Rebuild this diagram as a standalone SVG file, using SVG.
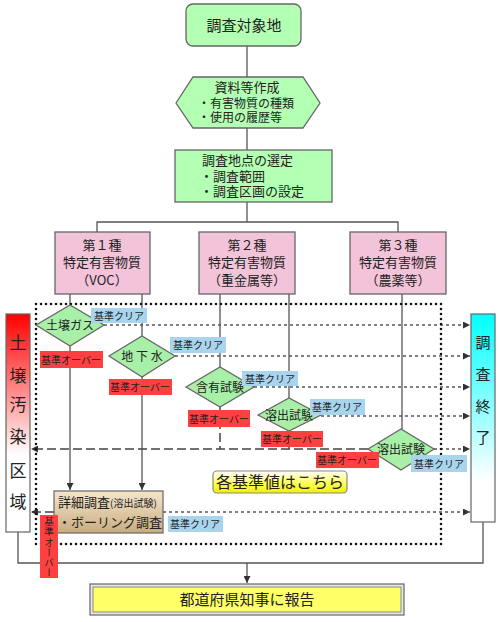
<svg xmlns="http://www.w3.org/2000/svg" width="500" height="622" viewBox="0 0 500 622">
<defs>
<linearGradient id="gRed" x1="0" y1="0" x2="0" y2="1"><stop offset="0" stop-color="#ff0000"/><stop offset="0.65" stop-color="#ffffff"/><stop offset="1" stop-color="#ffffff"/></linearGradient>
<linearGradient id="gCyan" x1="0" y1="0" x2="0" y2="1"><stop offset="0" stop-color="#00ffff"/><stop offset="0.8" stop-color="#ffffff"/><stop offset="1" stop-color="#ffffff"/></linearGradient>
<linearGradient id="gTan" x1="0" y1="0" x2="0" y2="1"><stop offset="0" stop-color="#f4e6cc"/><stop offset="1" stop-color="#c9ac80"/></linearGradient>
<linearGradient id="gYel" x1="0" y1="0" x2="0" y2="1"><stop offset="0" stop-color="#ffffff"/><stop offset="0.5" stop-color="#ffff66"/><stop offset="1" stop-color="#f0f000"/></linearGradient>
<marker id="ar" viewBox="0 0 10 10" refX="10" refY="5" markerWidth="7" markerHeight="7" orient="auto-start-reverse" markerUnits="userSpaceOnUse"><path d="M0,0 L10,5 L0,10 z" fill="#333"/></marker>
</defs>
<style>
text{font-family:"Noto Sans CJK JP","Noto Sans",sans-serif;fill:#222;}
.g{fill:#b3ffb3;stroke:#666;stroke-width:1.3;}
.p{fill:#f2c3d9;stroke:#666;stroke-width:1.3;}
.dm{fill:#a8f0a8;stroke:#666;stroke-width:1.3;}
.ln{stroke:#555;stroke-width:1.3;fill:none;}
.ds{stroke:#555;stroke-width:1.3;fill:none;stroke-dasharray:3,3;}
.ld{stroke:#444;stroke-width:1.5;fill:none;stroke-dasharray:9,4;}
.clr{fill:#a8d4ee;}
.ovr{fill:#ff4040;}
.lb{font-size:10px;}
.t13{font-size:13px;}
.t12{font-size:12px;}
.vt{font-size:9.5px;writing-mode:vertical-rl;text-orientation:upright;letter-spacing:0.6px;}
</style>
<rect width="500" height="622" fill="#ffffff"/>

<g id="connectors">
<line class="ln" x1="247" y1="46" x2="247" y2="77"/>
<line class="ln" x1="247" y1="128" x2="247" y2="150"/>
<polyline class="ln" points="247,202 247,222"/>
<polyline class="ln" points="97,232 97,222 398,222 398,232"/>
<line class="ln" x1="70" y1="294" x2="70" y2="305"/>
<line class="ln" x1="70" y1="346" x2="70" y2="490" marker-end="url(#ar)"/>
<line class="ln" x1="142" y1="294" x2="142" y2="336"/>
<line class="ln" x1="142" y1="377" x2="142" y2="490" marker-end="url(#ar)"/>
<line class="ln" x1="220" y1="294" x2="220" y2="367"/>
<line class="ln" x1="289" y1="294" x2="289" y2="398"/>
<line class="ln" x1="402" y1="294" x2="402" y2="429"/>
<line class="ds" x1="104" y1="325" x2="470" y2="325" marker-end="url(#ar)"/>
<line class="ds" x1="175" y1="356" x2="470" y2="356" marker-end="url(#ar)"/>
<line class="ds" x1="254" y1="387" x2="470" y2="387" marker-end="url(#ar)"/>
<line class="ds" x1="321" y1="416" x2="470" y2="416" marker-end="url(#ar)"/>
<line class="ds" x1="434" y1="449" x2="470" y2="449" marker-end="url(#ar)"/>
<line class="ds" x1="163" y1="512" x2="470" y2="512" marker-end="url(#ar)"/>
<line class="ld" x1="54" y1="512" x2="31" y2="512" marker-end="url(#ar)"/>
<line class="ld" x1="220" y1="407" x2="220" y2="449"/>
<line class="ld" x1="289" y1="431" x2="289" y2="449"/>
<line class="ld" x1="368" y1="449" x2="31" y2="449" marker-end="url(#ar)"/>
<polyline class="ln" points="483,522 483,563 18,563 18,532"/>
<line class="ln" x1="247" y1="563" x2="247" y2="583" marker-end="url(#ar)"/>
<rect x="36" y="304" width="405" height="240" fill="none" stroke="#111" stroke-width="2.6" stroke-dasharray="0,5" stroke-linecap="round"/>
</g>

<g id="n-target">
<rect class="g" x="186" y="4" width="115" height="42" rx="7"/>
<text x="244" y="31" font-size="15" text-anchor="middle">調査対象地</text>
</g>
<g id="n-docs">
<polygon class="g" points="176,103 193,77 303,77 320,103 303,128 193,128"/>
<text x="247" y="92" class="t13" text-anchor="middle">資料等作成</text>
<text x="198" y="108" class="t12">・有害物質の種類</text>
<text x="198" y="122" class="t12">・使用の履歴等</text>
</g>
<g id="n-select">
<rect class="g" x="175" y="150" width="157" height="52"/>
<text x="202" y="165" class="t13">調査地点の選定</text>
<text x="200" y="181" class="t13">・調査範囲</text>
<text x="200" y="196" class="t13">・調査区画の設定</text>
</g>

<g id="n-type1">
<rect class="p" x="55" y="232" width="95" height="62"/>
<text x="102" y="250" class="t13" text-anchor="middle">第１種</text>
<text x="102" y="267" class="t13" text-anchor="middle">特定有害物質</text>
<text x="102" y="285" class="t13" text-anchor="middle">（VOC）</text>
</g>
<g id="n-type2">
<rect class="p" x="199" y="232" width="96" height="62"/>
<text x="247" y="250" class="t13" text-anchor="middle">第２種</text>
<text x="247" y="267" class="t13" text-anchor="middle">特定有害物質</text>
<text x="247" y="285" class="t13" text-anchor="middle">（重金属等）</text>
</g>
<g id="n-type3">
<rect class="p" x="350" y="232" width="96" height="62"/>
<text x="398" y="250" class="t13" text-anchor="middle">第３種</text>
<text x="398" y="267" class="t13" text-anchor="middle">特定有害物質</text>
<text x="398" y="285" class="t13" text-anchor="middle">（農薬等）</text>
</g>

<g id="n-polluted">
<rect x="6" y="314" width="24" height="218" fill="url(#gRed)" stroke="#666" stroke-width="1.2"/>
<text x="18" y="349" font-size="17" text-anchor="middle">土</text>
<text x="18" y="382" font-size="17" text-anchor="middle">壌</text>
<text x="18" y="411" font-size="17" text-anchor="middle">汚</text>
<text x="18" y="443" font-size="17" text-anchor="middle">染</text>
<text x="18" y="477" font-size="17" text-anchor="middle">区</text>
<text x="18" y="508" font-size="17" text-anchor="middle">域</text>
</g>
<g id="n-end">
<rect x="471" y="314" width="24" height="208" fill="url(#gCyan)" stroke="#666" stroke-width="1.2"/>
<text x="483" y="348" font-size="15" text-anchor="middle">調</text>
<text x="483" y="380" font-size="15" text-anchor="middle">査</text>
<text x="483" y="412" font-size="15" text-anchor="middle">終</text>
<text x="483" y="443" font-size="15" text-anchor="middle">了</text>
</g>

<g id="n-gas">
<polygon class="dm" points="36,325 70,305 104,325 70,346"/>
<text x="70" y="330" class="t12" text-anchor="middle">土壌ガス</text>
<rect class="clr" x="91" y="308" width="56" height="15"/>
<text x="119" y="319.5" class="lb" text-anchor="middle">基準クリア</text>
<rect class="ovr" x="40" y="351" width="63" height="17"/>
<text x="71" y="363.5" class="lb" text-anchor="middle">基準オーバー</text>
</g>
<g id="n-water">
<polygon class="dm" points="109,356 142,336 175,356 142,377"/>
<text x="142" y="361" class="t12" text-anchor="middle">地 下 水</text>
<rect class="clr" x="170" y="337" width="56" height="16"/>
<text x="198" y="349" class="lb" text-anchor="middle">基準クリア</text>
<rect class="ovr" x="109" y="379" width="63" height="16"/>
<text x="140" y="391" class="lb" text-anchor="middle">基準オーバー</text>
</g>
<g id="n-content">
<polygon class="dm" points="186,387 220,367 254,387 220,407"/>
<text x="220" y="392" class="t12" text-anchor="middle">含有試験</text>
<rect class="clr" x="242" y="371" width="56" height="15"/>
<text x="270" y="382.5" class="lb" text-anchor="middle">基準クリア</text>
<rect class="ovr" x="188" y="410" width="62" height="17"/>
<text x="219" y="422.5" class="lb" text-anchor="middle">基準オーバー</text>
</g>
<g id="n-elution2">
<polygon class="dm" points="258,415 289,398 321,415 289,431"/>
<text x="289" y="420" class="t12" text-anchor="middle">溶出試験</text>
<rect class="clr" x="310" y="399" width="55" height="16"/>
<text x="337" y="411" class="lb" text-anchor="middle">基準クリア</text>
<rect class="ovr" x="261" y="431" width="62" height="16"/>
<text x="292" y="443" class="lb" text-anchor="middle">基準オーバー</text>
</g>
<g id="n-elution3">
<polygon class="dm" points="368,449 401,429 434,449 401,470"/>
<text x="401" y="454" class="t12" text-anchor="middle">溶出試験</text>
<rect class="ovr" x="316" y="452" width="63" height="16"/>
<text x="347" y="464" class="lb" text-anchor="middle">基準オーバー</text>
<rect class="clr" x="411" y="455" width="56" height="17"/>
<text x="439" y="467.5" class="lb" text-anchor="middle">基準クリア</text>
</g>
<g id="n-standards">
<rect x="213" y="471" width="134" height="22" rx="4" fill="url(#gYel)" stroke="#888" stroke-width="1.2"/>
<text x="280" y="488" font-size="16" text-anchor="middle">各基準値はこちら</text>
</g>
<g id="n-detail">
<rect x="54" y="491" width="109" height="42" fill="url(#gTan)" stroke="#666" stroke-width="1.2"/>
<text x="58" y="507"><tspan font-size="13">詳細調査</tspan><tspan font-size="10">(溶出試験)</tspan></text>
<text x="58" y="527" class="t13">・ボーリング調査</text>
<rect class="clr" x="168" y="516" width="55" height="16"/>
<text x="195" y="528" class="lb" text-anchor="middle">基準クリア</text>
<rect class="ovr" x="40" y="515" width="18" height="63"/>
<text x="49" y="517" class="vt">基準オーバー</text>
</g>
<g id="n-report">
<rect x="90" y="584" width="314" height="31" fill="#e8e8e8" stroke="#666" stroke-width="1.2"/>
<rect x="93" y="587" width="308" height="25" fill="#ffff66" stroke="#888" stroke-width="1"/>
<text x="247" y="605" font-size="15" text-anchor="middle">都道府県知事に報告</text>
</g>
</svg>
